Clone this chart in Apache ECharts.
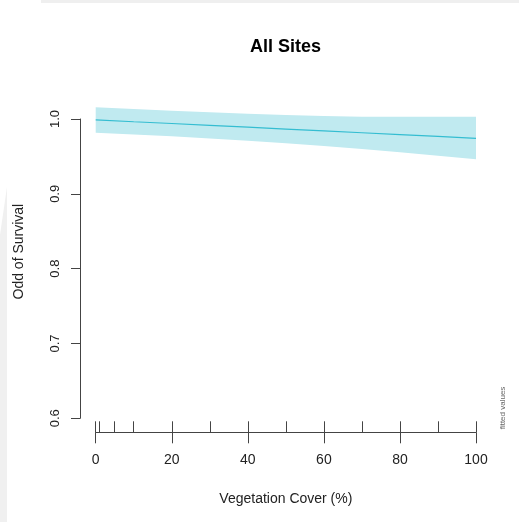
<!DOCTYPE html>
<html>
<head>
<meta charset="utf-8">
<script src="https://cdn.jsdelivr.net/npm/echarts@6/dist/echarts.min.js"></script>
<style>html,body{margin:0;padding:0;background:#fff;}#c{width:519px;height:522px;}</style>
</head>
<body>
<div id="c"></div>
<script>
// Data
var xVals = [0, 10, 20, 30, 40, 50, 60, 70, 80, 90, 100];
var fitVals = [0.9987, 0.9963, 0.9940, 0.9916, 0.9891, 0.9866, 0.9841, 0.9816, 0.9792, 0.9767, 0.9742];
var upperVals = [1.0158, 1.0134, 1.0110, 1.0090, 1.0070, 1.0054, 1.0040, 1.0031, 1.0031, 1.0031, 1.0031];
var lowerVals = [0.9817, 0.9793, 0.9769, 0.9740, 0.9708, 0.9675, 0.9640, 0.9600, 0.9555, 0.9510, 0.9461];
var rugVals = [0, 1, 5, 10, 20, 30, 40, 50, 60, 70, 80, 90, 100];
var xTicks = [0, 20, 40, 60, 80, 100];
var yTicks = [0.6, 0.7, 0.8, 0.9, 1.0];

var axisCol = '#444444';
var font = 'Liberation Sans, Arial, sans-serif';

var chart = echarts.init(document.getElementById('c'), null, {renderer: 'canvas'});
var fitData = xVals.map(function (x, i) { return [x, fitVals[i]]; });

var option = {
  animation: false,
  backgroundColor: '#ffffff',
  title: {
    text: 'All Sites',
    left: 280.5, top: 33, textAlign: 'center',
    textStyle: {fontFamily: font, fontSize: 18, fontWeight: 'bold', color: '#000'}
  },
  grid: [
    {left: 95.7, right: 43, top: 119, bottom: 103.7, containLabel: false},
    {left: 80, right: 43, top: 119, bottom: 103.7, containLabel: false}
  ],
  xAxis: [{
    gridIndex: 0, type: 'value', min: 0, max: 100, interval: 20, offset: 14,
    axisLine: {show: true, onZero: false, lineStyle: {color: axisCol, width: 1}},
    axisTick: {show: true, inside: false, length: 11, lineStyle: {color: axisCol}, customValues: xTicks},
    axisLabel: {show: true, margin: 21, fontFamily: font, fontSize: 14, color: '#222', customValues: xTicks},
    splitLine: {show: false},
    name: 'Vegetation Cover (%)', nameLocation: 'middle', nameGap: 60,
    nameTextStyle: {fontFamily: font, fontSize: 14, color: '#222'}
  }, {
    gridIndex: 0, type: 'value', min: 0, max: 100, offset: 14, position: 'bottom',
    axisLine: {show: false, onZero: false},
    axisTick: {show: true, inside: true, length: 11, lineStyle: {color: axisCol}, customValues: rugVals},
    axisLabel: {show: false},
    splitLine: {show: false}
  }, {
    gridIndex: 1, type: 'value', min: 0, max: 1, show: false
  }],
  yAxis: [{
    gridIndex: 0, type: 'value', min: 0.6, max: 1.0, show: false
  }, {
    gridIndex: 1, type: 'value', min: 0.6, max: 1.0, interval: 0.1, position: 'left',
    axisLine: {show: true, onZero: false, lineStyle: {color: axisCol, width: 1}},
    axisTick: {show: true, length: 9, lineStyle: {color: axisCol}},
    axisLabel: {show: true, rotate: 90, margin: 18, fontFamily: font, fontSize: 13, color: '#222',
      formatter: function (v) { return v.toFixed(1); }},
    splitLine: {show: false},
    name: 'Odd of Survival', nameLocation: 'middle', nameGap: 54,
    nameTextStyle: {fontFamily: font, fontSize: 14, color: '#222', padding: [0, 0, 0, 34]}
  }],
  series: [{
    type: 'custom',
    xAxisIndex: 0, yAxisIndex: 0,
    clip: false,
    data: [[0]],
    renderItem: function (params, api) {
      var pts = [];
      for (var i = 0; i < xVals.length; i++) pts.push(api.coord([xVals[i], upperVals[i]]));
      for (var j = xVals.length - 1; j >= 0; j--) pts.push(api.coord([xVals[j], lowerVals[j]]));
      return {type: 'polygon', shape: {points: pts}, style: {fill: '#c0eaf0', stroke: null}};
    },
    z: 1
  }, {
    type: 'line',
    xAxisIndex: 0, yAxisIndex: 0,
    data: fitData,
    clip: false,
    symbol: 'none',
    lineStyle: {color: '#34bdd1', width: 1.2},
    z: 2
  }],
  graphic: [
    {type: 'rect', shape: {x: 41, y: 0, width: 478, height: 3}, style: {fill: '#efefef'}, silent: true},
    {type: 'polygon', shape: {points: [[7, 187], [7, 522], [0, 522], [0, 235]]}, style: {fill: '#f0f0f0'}, silent: true},
    {type: 'text', x: 503, y: 408, rotation: Math.PI / 2,
      style: {text: 'fitted values', fontFamily: font, fontSize: 8, fill: '#666', textAlign: 'center', textVerticalAlign: 'middle'}}
  ]
};
chart.setOption(option);
</script>
</body>
</html>
